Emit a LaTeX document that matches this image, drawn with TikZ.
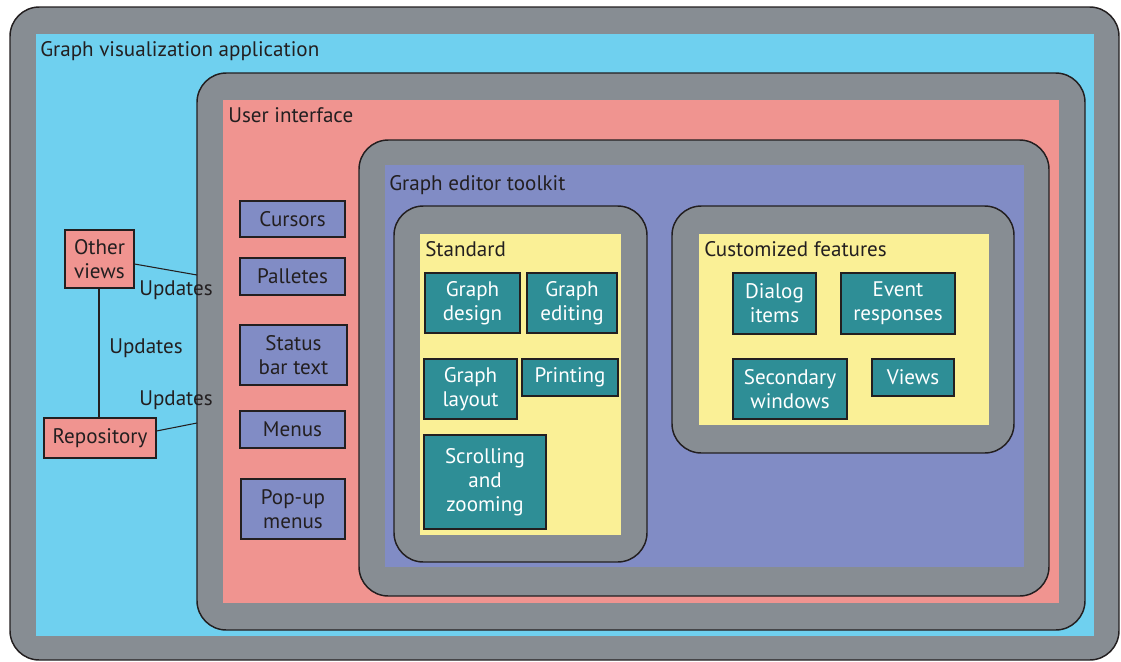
\documentclass[tikz,border=0pt]{standalone}
\usepackage{fontspec}
\setmainfont{PT Sans}
\usetikzlibrary{fit}
\definecolor{frameg}{HTML}{878D93}
\definecolor{cyanbg}{HTML}{6FD0EF}
\definecolor{pinkbg}{HTML}{F09490}
\definecolor{bluebg}{HTML}{818CC5}
\definecolor{yellowbg}{HTML}{FAF096}
\definecolor{tealbx}{HTML}{2E8E96}
\definecolor{ink}{HTML}{231F20}
\tikzset{
  frame/.style={fill=frameg, draw=ink, line width=1.1pt, rounded corners=22pt},
  txt/.style={font=\fontsize{15.8}{18}\selectfont, text=ink},
  lbl/.style={txt, anchor=base west, inner sep=0pt},
  bbox/.style={draw=ink, line width=0.8pt, inner sep=0pt, align=center, txt},
  uibox/.style={bbox, fill=bluebg},
  pkbox/.style={bbox, fill=pinkbg},
  tlbox/.style={bbox, fill=tealbx, text=white},
  link/.style={draw=ink, line width=0.8pt},
}
\begin{document}
\begin{tikzpicture}[x=0.75pt,y=-0.75pt]
\useasboundingbox (0,0) rectangle (1121,661);
% outer application
\draw[frame] (10,7) rectangle (1119,660);
\fill[cyanbg] (36,34) rectangle (1094,636);
\node[lbl] (appl) at (40,56) {Graph visualization application};
% user interface
\draw[frame] (197,73) rectangle (1085,630);
\fill[pinkbg] (223,100) rectangle (1059,603);
\node[lbl] (uil) at (228,122) {User interface};
% graph editor toolkit
\draw[frame] (359,140) rectangle (1049,596);
\fill[bluebg] (385,165) rectangle (1024,567);
\node[lbl] (gel) at (389,190) {Graph editor toolkit};
% standard
\draw[frame] (394,206) rectangle (647,562);
\fill[yellowbg] (420,234) rectangle (621,535);
\node[lbl] (stdl) at (425,256) {Standard};
% customized
\draw[frame] (672,206) rectangle (1014,453);
\fill[yellowbg] (699,234) rectangle (989,425);
\node[lbl] (cusl) at (704,256) {Customized features};
% UI boxes
\node[uibox, fit={(240,201) (345,237)}] (cursors) {};
\node[txt] at (cursors) {Cursors};
\node[uibox, fit={(240,258) (345,295)}] (palletes) {};
\node[txt] at (palletes) {Palletes};
\node[uibox, fit={(240,325) (347,385)}] (status) {};
\node[txt, align=center] at (status) {Status\\bar text};
\node[uibox, fit={(240,411) (345,448)}] (menus) {};
\node[txt] at (menus) {Menus};
\node[uibox, fit={(241,479) (345,539)}] (popup) {};
\node[txt, align=center] at (popup) {Pop-up\\menus};
% standard boxes
\node[tlbox, fit={(425,273) (520,333)}] (gdesign) {};
\node[txt, text=white, align=center] at (gdesign) {Graph\\design};
\node[tlbox, fit={(527,273) (617,333)}] (gediting) {};
\node[txt, text=white, align=center] at (gediting) {Graph\\editing};
\node[tlbox, fit={(424,359) (517,419)}] (glayout) {};
\node[txt, text=white, align=center] at (glayout) {Graph\\layout};
\node[tlbox, fit={(522,359) (618,396)}] (printing) {};
\node[txt, text=white] at (printing) {Printing};
\node[tlbox, fit={(424,435) (546,529)}] (scroll) {};
\node[txt, text=white, align=center] at (scroll) {Scrolling\\and\\zooming};
% customized boxes
\node[tlbox, fit={(733,273) (816,334)}] (dialog) {};
\node[txt, text=white, align=center] at (dialog) {Dialog\\items};
\node[tlbox, fit={(841,273) (955,334)}] (event) {};
\node[txt, text=white, align=center] at (event) {Event\\responses};
\node[tlbox, fit={(733,359) (847,419)}] (secondary) {};
\node[txt, text=white, align=center] at (secondary) {Secondary\\windows};
\node[tlbox, fit={(872,359) (954,396)}] (views) {};
\node[txt, text=white] at (views) {Views};
% external boxes
\node[pkbox, fit={(65,230) (134,288)}] (other) {};
\node[txt, align=center] at (other) {Other\\views};
\node[pkbox, fit={(44,418) (156,458)}] (repo) {};
\node[txt] at (repo) {Repository};
\coordinate (uiA) at (197,275);
\coordinate (uiB) at (197,423);
\draw[link] (other.east |- 0,264) -- (uiA);
\draw[link] (repo.east |- 0,431) -- (uiB);
\draw[link] (other.south -| 99,0) -- (repo.north -| 99,0);
\node[txt] (u1) at (176,290) {Updates};
\node[txt] (u2) at (146,348) {Updates};
\node[txt] (u3) at (176,400) {Updates};
\end{tikzpicture}
\end{document}
